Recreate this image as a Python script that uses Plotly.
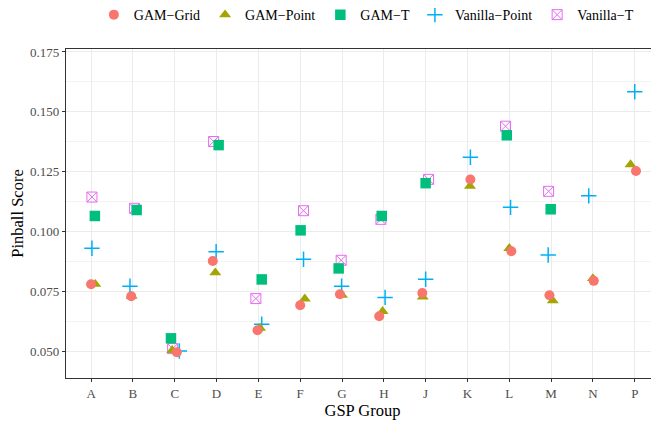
import plotly.graph_objects as go

groups = ["A", "B", "C", "D", "E", "F", "G", "H", "J", "K", "L", "M", "N", "P"]

gam_grid = [0.0780, 0.0730, 0.0496, 0.0877, 0.0588, 0.0692, 0.0738,
            0.0646, 0.0743, 0.1217, 0.0918, 0.0734, 0.0794, 0.1253]
gam_point = [0.0780, 0.0730, 0.0504, 0.0828, 0.0597, 0.0719, 0.0734,
             0.0667, 0.0727, 0.1190, 0.0930, 0.0711, 0.0804, 0.1280]
gam_t = [0.1065, 0.1090, 0.0554, 0.1361, 0.0800, 0.1005, 0.0846,
         0.1065, 0.1202, None, 0.1402, 0.1093, None, None]
vanilla_point = [0.0930, 0.0772, 0.0501, 0.0916, 0.0613, 0.0884, 0.0772,
                 0.0725, 0.0801, 0.1310, 0.1101, 0.0902, 0.1149, 0.1584]
vanilla_t = [0.1144, 0.1097, 0.0511, 0.1376, 0.0720, 0.1087, 0.0880,
             0.1051, 0.1218, None, 0.1440, 0.1168, None, None]

# horizontal jitter (in category units)
jitter_grid = [0.0, -0.04, 0.05, -0.09, -0.02, 0.0, -0.05, -0.11, -0.08, 0.07, 0.05, -0.04, 0.02, 0.03]
jitter_point = [0.10, -0.03, -0.06, -0.03, 0.04, 0.11, 0.0, -0.03, -0.07, 0.06, 0.0, 0.04, 0.0, -0.10]
jitter_t = [0.09, 0.09, -0.09, 0.05, 0.08, 0.01, -0.08, -0.05, 0.0, 0.0, -0.06, -0.01, 0.0, 0.0]
jitter_vp = [0.02, -0.07, 0.11, -0.01, 0.08, 0.08, -0.01, 0.03, 0.0, 0.07, 0.03, -0.07, -0.10, 0.0]
jitter_vt = [0.02, 0.04, -0.05, -0.07, -0.06, 0.08, -0.02, -0.07, 0.07, 0.0, -0.09, -0.06, 0.0, 0.0]

series = [
    # name, values, jitter, symbol, size, color, line width, legend rank
    ("Vanilla\u2212T", vanilla_t, jitter_vt, "square-x-open", 10, "#E76BF3", 1, 5),
    ("Vanilla\u2212Point", vanilla_point, jitter_vp, "cross-thin", 11, "#00B0F6", 1.5, 4),
    ("GAM\u2212T", gam_t, jitter_t, "square", 10.5, "#00BF7D", 0, 3),
    ("GAM\u2212Point", gam_point, jitter_point, "triangle-up", 10.5, "#A3A500", 0, 2),
    ("GAM\u2212Grid", gam_grid, jitter_grid, "circle", 10, "#F8766D", 0, 1),
]

fig = go.Figure()

for name, vals, jit, symbol, size, color, lw, rank in series:
    xs = [i + j for i, j in enumerate(jit)]
    marker = {"symbol": symbol, "size": size, "color": color}
    if lw:
        marker["line"] = {"color": color, "width": lw}
    else:
        marker["line"] = {"width": 0}
    fig.add_trace(
        go.Scatter(
            x=xs,
            y=vals,
            mode="markers",
            marker=marker,
            name=name,
            legendrank=rank,
        )
    )

serif = "Liberation Serif, Times New Roman, serif"
axis_font = {"family": serif, "size": 13, "color": "#4D4D4D"}

# the page body adds an 8px margin, so the figure is a bit smaller
fig.update_layout(
    width=651,
    height=414,
    margin={"l": 58, "r": 0, "t": 41, "b": 44},
    paper_bgcolor="white",
    plot_bgcolor="white",
    font={"family": serif, "size": 14, "color": "black"},
    showlegend=True,
    legend={
        "orientation": "h",
        "x": 0.047,
        "xanchor": "left",
        "y": 0.983,
        "yanchor": "middle",
        "yref": "container",
        "font": {"family": serif, "size": 14, "color": "black"},
        "traceorder": "normal",
    },
    xaxis={
        "range": [-0.6, 13.58],
        "tickvals": list(range(len(groups))),
        "ticktext": groups,
        "tickfont": axis_font,
        "ticks": "outside",
        "ticklen": 3,
        "tickcolor": "#333333",
        "showgrid": True,
        "gridcolor": "#EBEBEB",
        "gridwidth": 1,
        "showline": True,
        "linecolor": "#333333",
        "linewidth": 1.2,
        "mirror": True,
        "zeroline": False,
        "automargin": False,
        "title": {"text": "GSP Group", "font": {"family": serif, "size": 16.5}, "standoff": 3},
    },
    yaxis={
        "range": [0.03883, 0.17624],
        "tickvals": [0.05, 0.075, 0.1, 0.125, 0.15, 0.175],
        "ticktext": ["0.050", "0.075", "0.100", "0.125", "0.150", "0.175"],
        "tickfont": axis_font,
        "ticks": "outside",
        "ticklen": 3,
        "tickcolor": "#333333",
        "showgrid": True,
        "gridcolor": "#EBEBEB",
        "gridwidth": 1,
        "minor": {"tickvals": [0.0625, 0.0875, 0.1125, 0.1375, 0.1625],
                  "showgrid": True, "gridcolor": "#F3F3F3", "gridwidth": 0.7},
        "showline": True,
        "linecolor": "#333333",
        "linewidth": 1.2,
        "mirror": True,
        "zeroline": False,
        "automargin": False,
        "title": {"text": "Pinball Score", "font": {"family": serif, "size": 16.5}, "standoff": 8},
    },
)

fig.write_html("out.html")
